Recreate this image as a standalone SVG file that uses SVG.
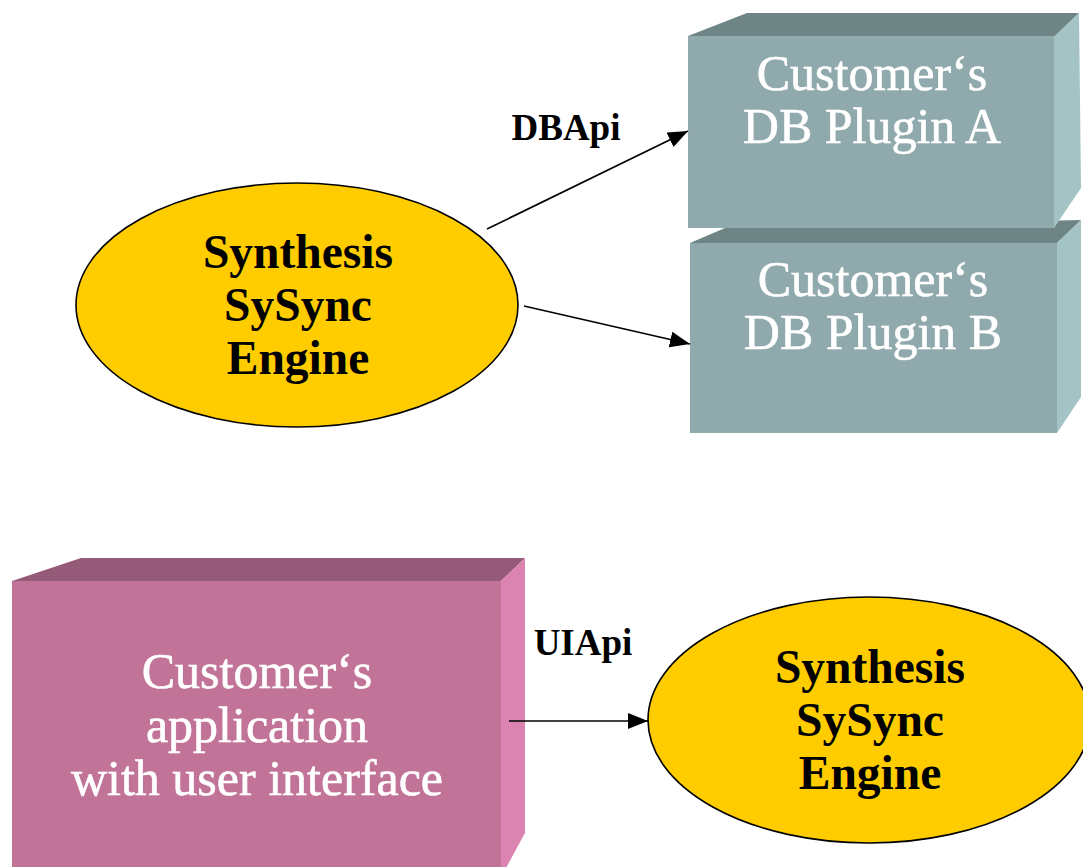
<svg xmlns="http://www.w3.org/2000/svg" width="1083" height="867" viewBox="0 0 1083 867">
<defs>
<style>
.front-g{fill:#8FA9AC}
.top-g{fill:#6F8585}
.side-g{fill:#A3C3C5}
.front-p{fill:#C27498}
.top-p{fill:#965A79}
.side-p{fill:#DC84B1}
.ell{fill:#FFCC00;stroke:#000;stroke-width:1.6}
.wt{font-family:"Liberation Serif",serif;font-size:50px;fill:#FFFFFF;text-anchor:middle;stroke:#FFFFFF;stroke-width:0.6}
.bt{font-family:"Liberation Serif",serif;font-size:47.5px;font-weight:bold;fill:#000;text-anchor:middle}
.lbl{font-family:"Liberation Serif",serif;font-size:37px;font-weight:bold;fill:#000;text-anchor:middle}
.conn{stroke:#000;stroke-width:1.6;fill:none;marker-end:url(#arr)}
</style>
<marker id="arr" viewBox="0 0 20 16" refX="20" refY="8" markerWidth="20" markerHeight="16" markerUnits="userSpaceOnUse" orient="auto">
<path d="M0,0 L20,8 L0,16 z" fill="#000"/>
</marker>
</defs>
<rect width="1083" height="867" fill="#FFFFFF"/>
<g id="pluginB">
<polygon class="top-g" points="690,243 725,228 1081,220 1057,243"/>
<polygon class="side-g" points="1057,243 1081,220 1081,397 1057,433"/>
<rect class="front-g" x="690" y="243" width="367" height="190"/>
<text class="wt" x="873" y="296">Customer‘s</text>
<text class="wt" x="873" y="349">DB Plugin B</text>
</g>
<g id="pluginA">
<polygon class="top-g" points="688,36 747,13 1079,13 1054,37"/>
<polygon class="side-g" points="1054,37 1079,13 1081,188 1054,228"/>
<rect class="front-g" x="688" y="36" width="366" height="192"/>
<text class="wt" x="872" y="90">Customer‘s</text>
<text class="wt" x="872" y="143">DB Plugin A</text>
</g>
<g id="engine1">
<ellipse class="ell" cx="297" cy="305" rx="221" ry="122"/>
<text class="bt" x="298" y="268">Synthesis</text>
<text class="bt" x="298" y="321">SySync</text>
<text class="bt" x="298" y="374">Engine</text>
</g>
<g id="app">
<polygon class="top-p" points="12,581 81,558 525,558 501,581"/>
<polygon class="side-p" points="501,581 525,558 525,833 501,877"/>
<rect class="front-p" x="12" y="581" width="489" height="300"/>
<text class="wt" x="257" y="688">Customer‘s</text>
<text class="wt" x="257" y="742">application</text>
<text class="wt" x="257" y="795">with user interface</text>
</g>
<g id="engine2">
<ellipse class="ell" cx="869" cy="720" rx="221" ry="123"/>
<text class="bt" x="870" y="683">Synthesis</text>
<text class="bt" x="870" y="736">SySync</text>
<text class="bt" x="870" y="789">Engine</text>
</g>
<g id="connectors">
<line class="conn" x1="487" y1="229" x2="688" y2="131"/>
<line class="conn" x1="524" y1="306" x2="690" y2="344"/>
<line class="conn" x1="509" y1="721" x2="648" y2="721"/>
<text class="lbl" x="566" y="140">DBApi</text>
<text class="lbl" x="583" y="655">UIApi</text>
</g>
</svg>
